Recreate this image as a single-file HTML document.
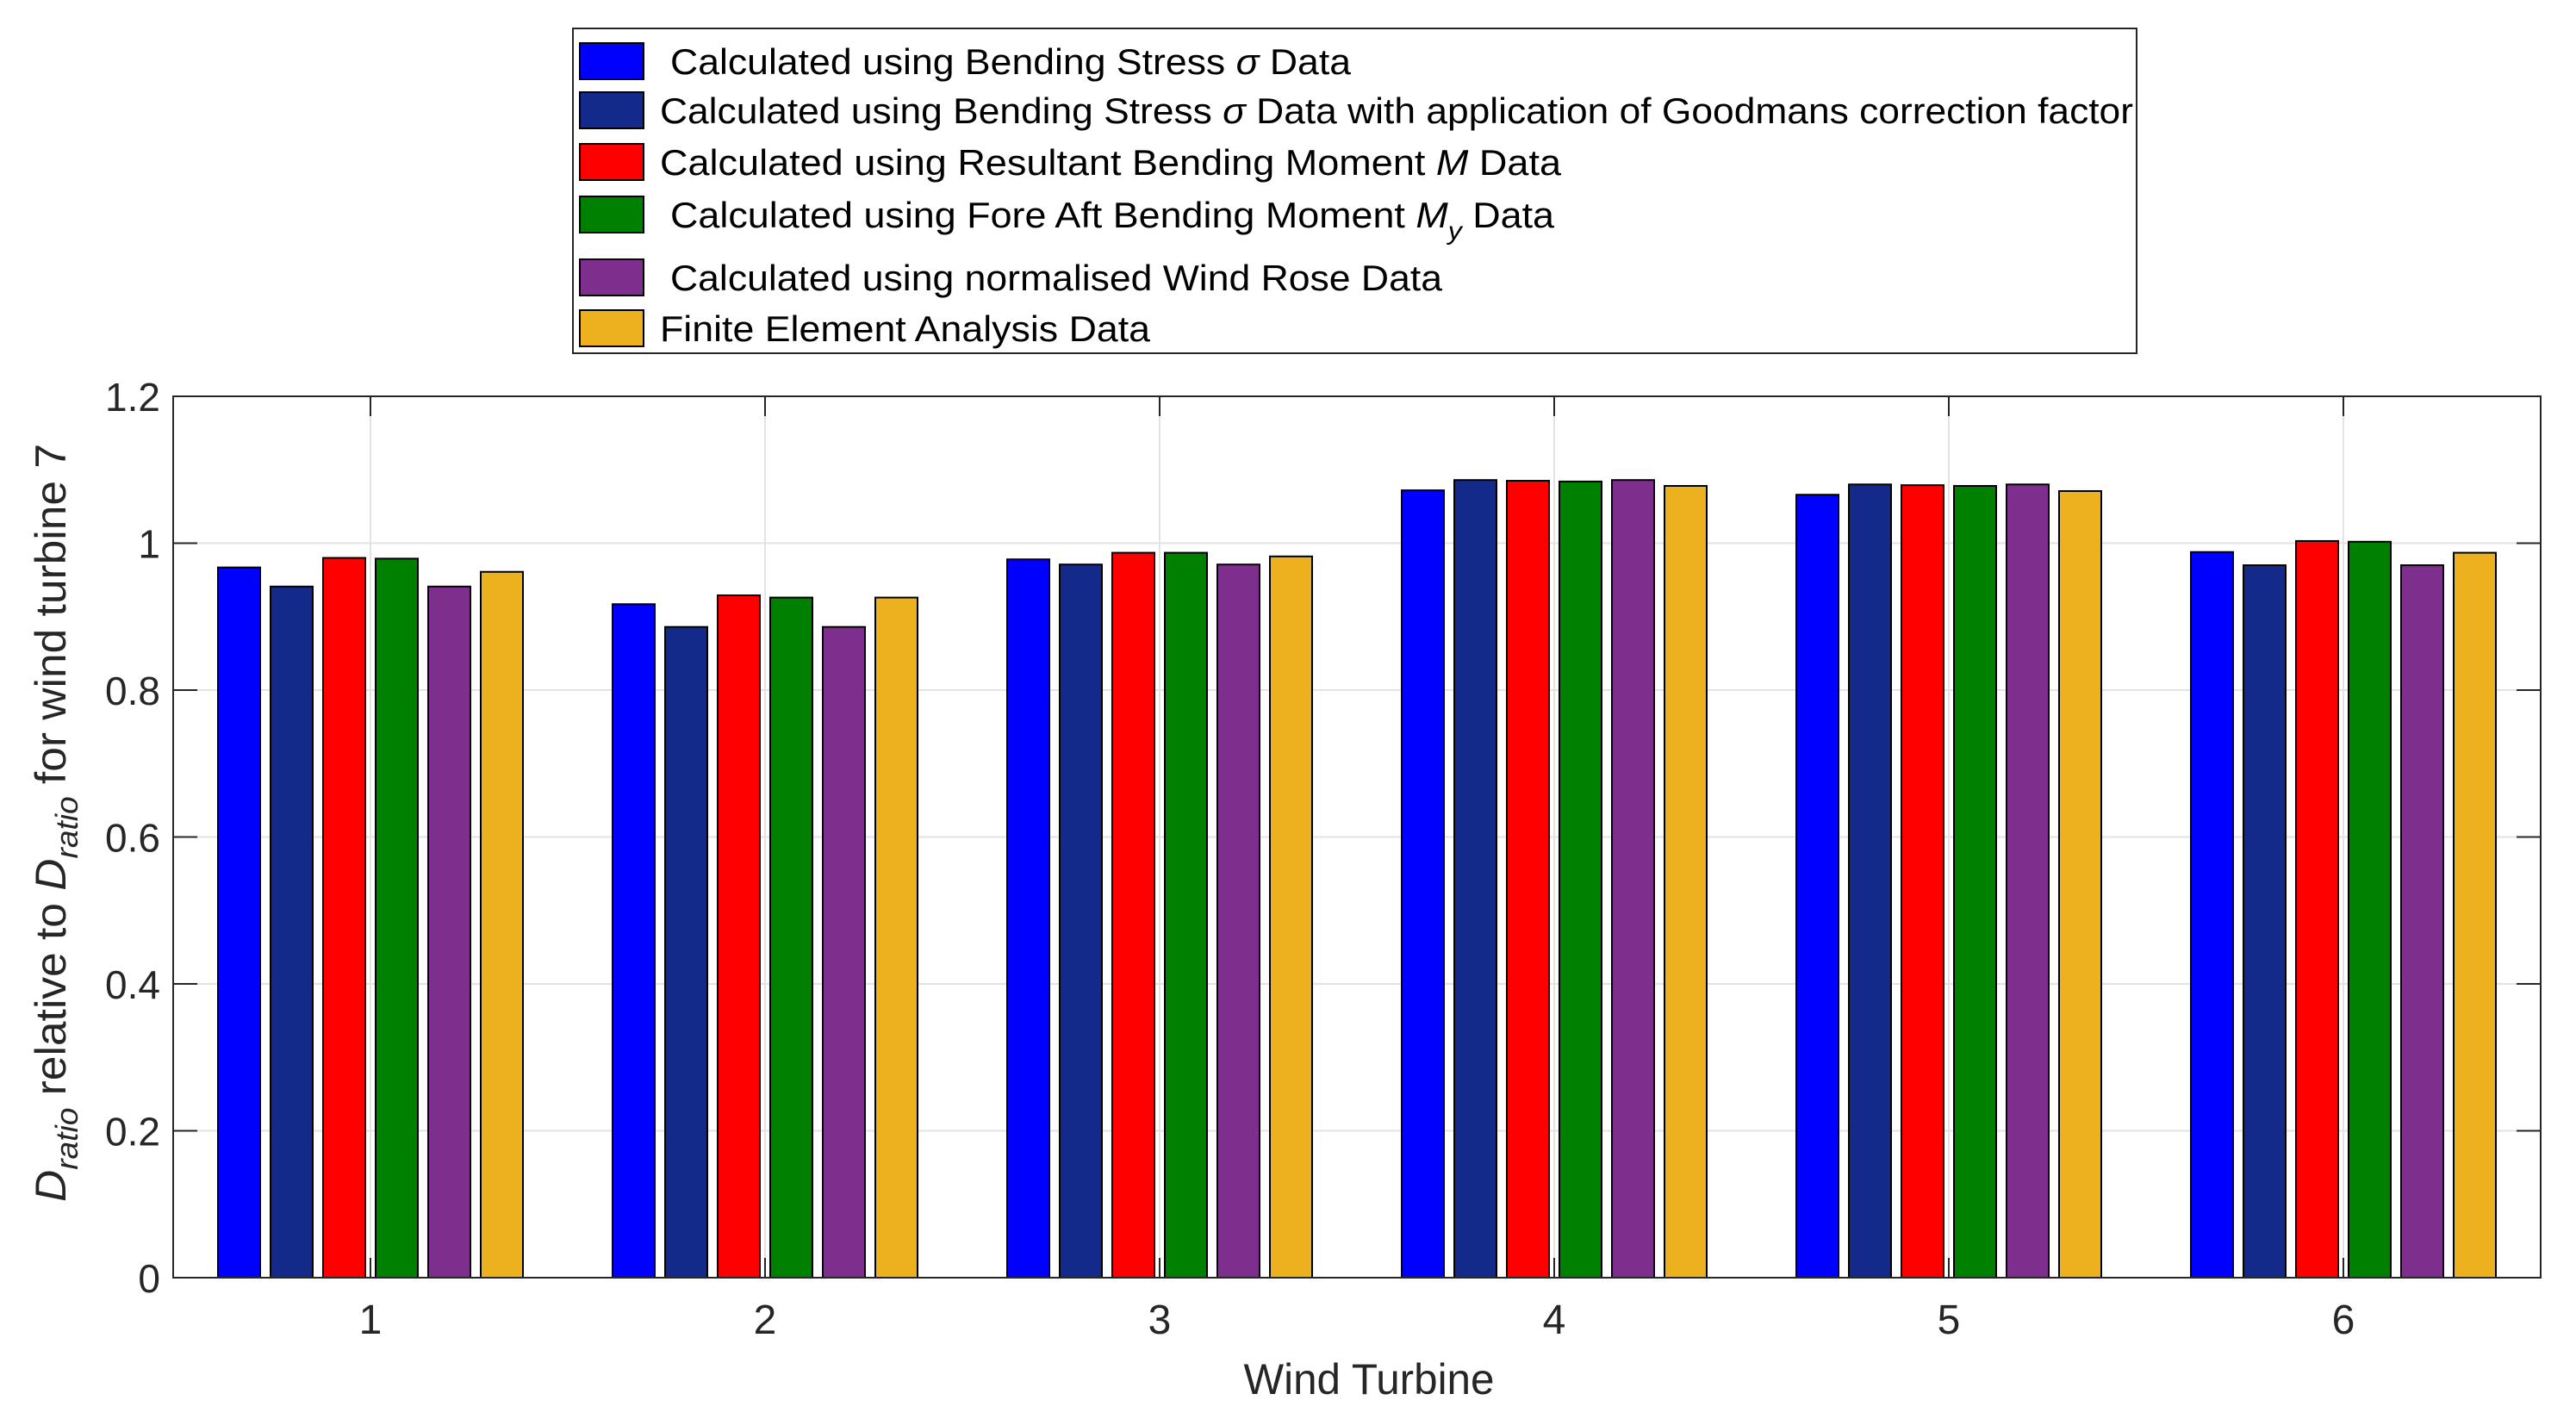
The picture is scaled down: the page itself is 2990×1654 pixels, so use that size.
<!DOCTYPE html>
<html><head><meta charset="utf-8"><style>
html,body{margin:0;padding:0;background:#fff;}
svg{display:block;font-family:"Liberation Sans",sans-serif;}
</style></head><body>
<svg id="chart" width="2990" height="1654" viewBox="0 0 2990 1654" xmlns="http://www.w3.org/2000/svg">
<g id="grid"></g>
<g id="bars"></g>
<g id="axes"></g>
<g id="legend">
  <rect x="665" y="33" width="1815" height="377" fill="#fff" stroke="#262626" stroke-width="2"/>
</g>
<text x="1589" y="1618" font-size="50" fill="#262626" text-anchor="middle" textLength="291" lengthAdjust="spacingAndGlyphs">Wind Turbine</text>
<text transform="translate(76,955) rotate(-90)" font-size="50" fill="#262626" text-anchor="middle" textLength="880" lengthAdjust="spacingAndGlyphs"><tspan font-style="italic">D</tspan><tspan font-style="italic" font-size="36" dy="14">ratio</tspan><tspan dy="-14"> relative to  </tspan><tspan font-style="italic">D</tspan><tspan font-style="italic" font-size="36" dy="14">ratio</tspan><tspan dy="-14"> for wind turbine 7</tspan></text>
</svg>
<script>
const categories = ['1','2','3','4','5','6'];
const seriesNames = ['Calculated using Bending Stress σ Data','Calculated using Bending Stress σ Data with application of Goodmans correction factor','Calculated using  Resultant Bending Moment M Data','Calculated using Fore Aft Bending Moment My Data','Calculated using normalised Wind Rose Data','Finite Element Analysis Data'];
const bendingStress = [0.967, 0.917, 0.978, 1.072, 1.066, 0.988];
const goodman = [0.941, 0.886, 0.971, 1.086, 1.080, 0.970];
const resultantMoment = [0.980, 0.929, 0.987, 1.085, 1.079, 1.003];
const foreAftMoment = [0.979, 0.926, 0.987, 1.084, 1.078, 1.002];
const windRose = [0.941, 0.886, 0.971, 1.086, 1.080, 0.970];
const fea = [0.961, 0.926, 0.982, 1.078, 1.071, 0.987];
const yTicks = [0, 0.2, 0.4, 0.6, 0.8, 1, 1.2];
const yTickLabels = ['0','0.2','0.4','0.6','0.8','1','1.2'];

const series = [bendingStress, goodman, resultantMoment, foreAftMoment, windRose, fea];
const colors = ['#0000ff','#142a8a','#ff0000','#008000','#7e2f8e','#edb120'];
const NS = 'http://www.w3.org/2000/svg';
const L = 201, R = 2949, T = 460, B = 1483;
const yMax = 1.2;
function yScale(v){ return B - (v / yMax) * (B - T); }
function xScale(i){ return L + (R - L) / categories.length * (i + 0.5); }
const pitch = 61, barW = 49;
function mk(tag, attrs, parent){ const e = document.createElementNS(NS, tag); for (const k in attrs) e.setAttribute(k, attrs[k]); parent.appendChild(e); return e; }
const grid = document.getElementById('grid'), bars = document.getElementById('bars'), axes = document.getElementById('axes'), legend = document.getElementById('legend');

yTicks.forEach((v, i) => {
  const y = yScale(v);
  const g = mk('line', {x1:L, x2:R, y1:y, y2:y, stroke:'#e3e3e3', 'stroke-width':2}, grid);
  
  
  const t1 = mk('line', {x1:L, x2:L+28, y1:y, y2:y, stroke:'#262626', 'stroke-width':2}, axes);
  
  
  const t2 = mk('line', {x1:R-28, x2:R, y1:y, y2:y, stroke:'#262626', 'stroke-width':2}, axes);
  
  
  const lb = mk('text', {x:186, y:y+17, 'font-size':46, fill:'#262626', 'text-anchor':'end'}, axes);
  lb.textContent = yTickLabels[i];
  
  
});
categories.forEach((c, i) => {
  const x = xScale(i);
  const g = mk('line', {x1:x, x2:x, y1:T, y2:B, stroke:'#e3e3e3', 'stroke-width':2}, grid);
  
  
  const t1 = mk('line', {x1:x, x2:x, y1:B-23, y2:B, stroke:'#262626', 'stroke-width':2}, axes);
  
  
  const t2 = mk('line', {x1:x, x2:x, y1:T, y2:T+23, stroke:'#262626', 'stroke-width':2}, axes);
  
  
  const lb = mk('text', {x:x, y:1548, 'font-size':48, fill:'#262626', 'text-anchor':'middle'}, axes);
  lb.textContent = c;
  
  
  series.forEach((s, j) => {
    const cx = x + (j - 2.5) * pitch;
    const y = yScale(s[i]);
    const r = mk('rect', {x:cx - barW/2, y:y, width:barW, height:B - y, fill:colors[j], stroke:'#000', 'stroke-width':2}, bars);
    
    
  });
});
const frame = mk('rect', {x:L, y:T, width:R-L, height:B-T, fill:'none', stroke:'#262626', 'stroke-width':2}, axes);



const rowY = [71, 128, 188, 249, 322, 381];
const textX = [778, 766, 766, 778, 778, 766];
const textW = [790, 1710, 1046, 1026, 896, 569];
seriesNames.forEach((n, j) => {
  const sw = mk('rect', {x:673, y:rowY[j]-21, width:74, height:42, fill:colors[j], stroke:'#000', 'stroke-width':2}, legend);
  
  
  const t = mk('text', {x:textX[j], y:rowY[j]+15, 'font-size':42, fill:'#000', textLength:textW[j], lengthAdjust:'spacingAndGlyphs'}, legend);
  
  
  if (j === 2) {
    t.innerHTML = 'Calculated using  Resultant Bending Moment <tspan font-style="italic">M</tspan> Data';
  } else if (j === 3) {
    t.innerHTML = 'Calculated using Fore Aft Bending Moment <tspan font-style="italic">M</tspan><tspan font-style="italic" font-size="30" dy="14">y</tspan><tspan dy="-14"> Data</tspan>';
  } else if (j === 0) {
    t.innerHTML = 'Calculated using Bending Stress <tspan font-style="italic">σ</tspan> Data';
  } else if (j === 1) {
    t.innerHTML = 'Calculated using Bending Stress <tspan font-style="italic">σ</tspan> Data with application of Goodmans correction factor';
  } else {
    t.textContent = n;
  }
});
</script>
</body></html>
